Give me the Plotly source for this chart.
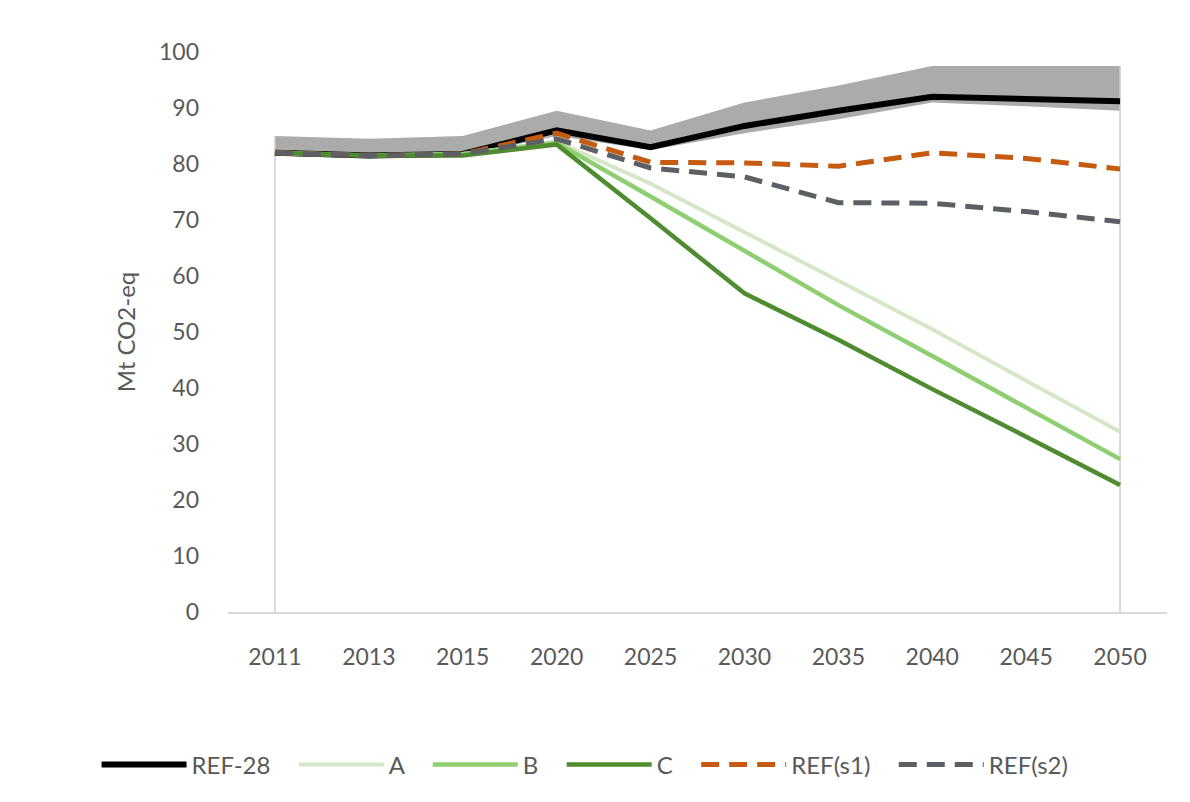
import plotly.graph_objects as go

years = ["2011", "2013", "2015", "2020", "2025", "2030", "2035", "2040", "2045", "2050"]
band_low = [81.5, 81.0, 81.5, 85.0, 82.5, 85.5, 88.0, 91.0, 90.3, 89.5]
band_high = [85.0, 84.5, 85.0, 89.5, 86.0, 91.0, 94.0, 97.5, 97.5, 97.5]
ref28 = [82.0, 81.5, 81.8, 86.0, 83.0, 86.8, 89.5, 92.0, 91.6, 91.2]
scen_a = [82.0, 81.5, 81.8, 84.0, 76.5, 67.8, 59.3, 50.5, 41.3, 32.2]
scen_b = [82.0, 81.5, 81.8, 83.8, 74.2, 64.5, 54.8, 45.7, 36.6, 27.3]
scen_c = [82.0, 81.5, 81.5, 83.5, 70.3, 56.9, 48.6, 39.8, 31.3, 22.7]
ref_s1 = [82.0, 81.5, 81.8, 85.5, 80.3, 80.2, 79.6, 82.0, 81.0, 79.1]
ref_s2 = [82.0, 81.5, 81.8, 84.5, 79.3, 77.7, 73.1, 73.0, 71.5, 69.7]
y_ticks = [0, 10, 20, 30, 40, 50, 60, 70, 80, 90, 100]

FONT = "Lato"
TXT = "#595959"
PAD = "\u00a0\u00a0\u00a0"  # spacing after legend labels

fig = go.Figure()

# uncertainty band
fig.add_trace(go.Scatter(x=years, y=band_low, mode="lines", line=dict(width=0, color="#ababab"),
                         showlegend=False, hoverinfo="skip"))
fig.add_trace(go.Scatter(x=years, y=band_high, mode="lines", line=dict(width=0, color="#ababab"),
                         fill="tonexty", fillcolor="#ababab", showlegend=False, hoverinfo="skip"))

# edge lines of the band area
for i in (0, len(years) - 1):
    fig.add_trace(go.Scatter(x=[years[i], years[i]], y=[0, band_high[i]], mode="lines",
                             line=dict(width=1.5, color="#cfcfcf"), showlegend=False, hoverinfo="skip"))

series = [
    ("REF-28", ref28, "#000000", 6, "solid"),
    ("A", scen_a, "#d6e7c9", 4, "solid"),
    ("B", scen_b, "#8fcf72", 4.5, "solid"),
    ("C", scen_c, "#4f8c2f", 4.5, "solid"),
    ("REF(s1)", ref_s1, "#c55a11", 5, "18px,10px"),
    ("REF(s2)", ref_s2, "#5c5f64", 5, "18px,10px"),
]
for name, vals, col, w, dash in series:
    fig.add_trace(go.Scatter(x=years, y=vals, mode="lines", name=name + PAD,
                             line=dict(color=col, width=w, dash=dash)))

fig.update_layout(
    width=1190, height=802,
    paper_bgcolor="white", plot_bgcolor="white",
    margin=dict(l=220, r=31, t=44, b=198),
    font=dict(family=FONT, size=23, color=TXT),
    showlegend=True,
    legend=dict(orientation="h", traceorder="normal", x=-0.14, xanchor="left", y=-0.273, yanchor="middle",
                font=dict(family=FONT, size=24, color=TXT), itemwidth=85,
                bgcolor="rgba(0,0,0,0)"),
)
fig.update_xaxes(type="category", range=[-0.5, len(years) - 0.5], showgrid=False,
                 showline=True, linecolor="#d9d9d9", linewidth=1.5, ticks="",
                 ticklabelstandoff=24, tickfont=dict(family=FONT, size=23, color=TXT),
                 zeroline=False, fixedrange=True)
fig.update_yaxes(range=[0, 100], tickvals=y_ticks, showgrid=False, showline=False, zeroline=False,
                 ticks="", ticklabelstandoff=28, tickfont=dict(family=FONT, size=23, color=TXT),
                 title=dict(text="Mt CO2-eq", font=dict(family=FONT, size=24, color=TXT), standoff=16))

fig.write_html("out.html")
